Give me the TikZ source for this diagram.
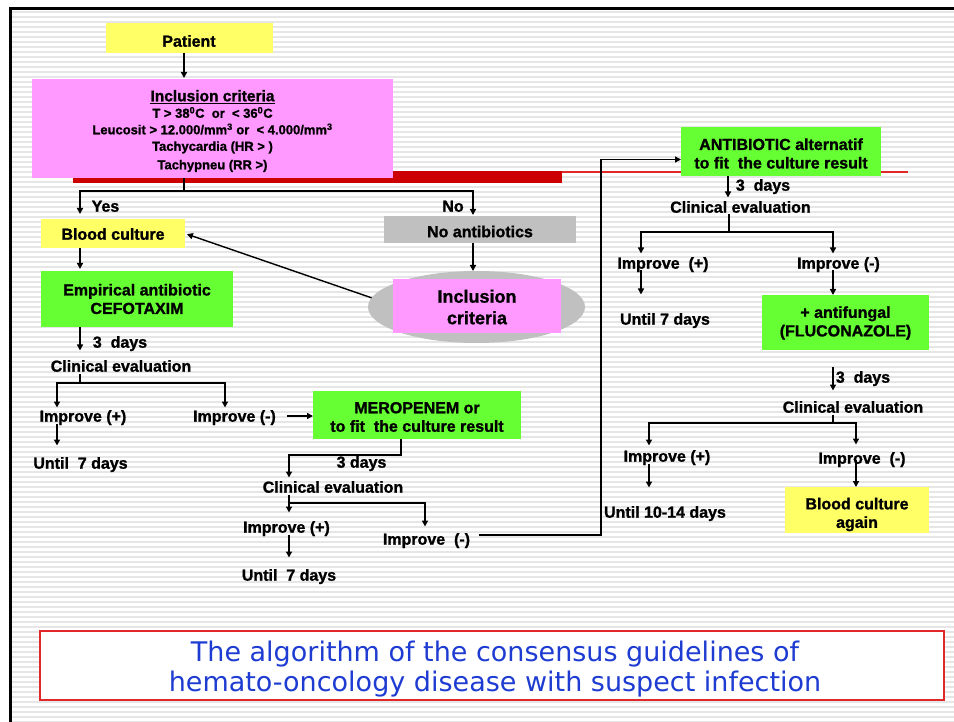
\documentclass[tikz,border=0pt]{standalone}
\usepackage{fontspec}
\setmainfont{Liberation Sans}[BoldFeatures={FakeBold=1.2}]
\newfontfamily\titlefont{DejaVu Sans}
\usetikzlibrary{arrows.meta,shapes.geometric,calc}
\definecolor{byellow}{HTML}{FFFF66}
\definecolor{bpink}{HTML}{FF99FF}
\definecolor{bgreen}{HTML}{66FF33}
\definecolor{bgray}{HTML}{C0C0C0}
\definecolor{bred}{HTML}{CC0000}
\definecolor{stripe}{HTML}{E6E6E6}
\definecolor{tblue}{HTML}{1E3CD2}
\definecolor{tred}{HTML}{E02828}
\newcommand\lowr[2][1.7pt]{\raisebox{-#1}{#2}}
\begin{document}
\begin{tikzpicture}[x=1pt,y=-1pt,
  every node/.style={inner sep=0pt, outer sep=0pt},
  bfill/.style={rectangle},
  btxt/.style={align=center, font=\bfseries\fontsize{16}{18.5}\selectfont},
  lbl/.style={font=\bfseries\fontsize{16}{18}\selectfont, text height=11.5pt, text depth=3.5pt},
  arr/.style={-{Triangle[length=6pt,width=6pt]}, line width=1.4pt},
  ln/.style={line width=1.4pt},
]
\useasboundingbox (0,0) rectangle (954,722);
\fill[white] (0,0) rectangle (954,722);
\foreach \yy in {11,16,...,721} \fill[stripe] (12,\yy) rectangle (954,\yy+2);
\draw[line width=3pt] (10.5,722) -- (10.5,8.5) -- (954,8.5);

% decoration bars
\fill[bred] (73,171) rectangle (562,183);
\draw[tred, line width=1.2pt] (562,172) -- (908,172);

% boxes (fill) and their texts
\node[bfill, fill=byellow, minimum width=167pt, minimum height=30pt] (pat) at (189,38) {};
\node[btxt] (patt) at ([yshift=-3pt]pat.center) {Patient};

\node[bfill, fill=bpink, minimum width=361pt, minimum height=99pt] (inc) at (212.5,128.5) {};
\node[btxt, font=\bfseries\fontsize{13}{16.5}\selectfont] (inct) at ([yshift=-2.5pt]inc.center)
  {{\fontsize{15.5}{17}\selectfont\underline{Inclusion criteria}}\\
   T > 38\textsuperscript{0}C\ \ or\ \ < 36\textsuperscript{0}C\\
   Leucosit > 12.000/mm\textsuperscript{3} or\ \ < 4.000/mm\textsuperscript{3}\\
   Tachycardia (HR > )\\[2pt]
   Tachypneu (RR >)};

\node[bfill, fill=byellow, minimum width=144pt, minimum height=29pt] (bc) at (113,233.5) {};
\node[btxt] (bct) at ([yshift=-0.5pt]bc.center) {Blood culture};

\node[bfill, fill=bgray, minimum width=192pt, minimum height=27pt] (noab) at (480,229.5) {};
\node[btxt] (noabt) at ([yshift=-2pt]noab.center) {No antibiotics};

\node[ellipse, fill=bgray, minimum width=217pt, minimum height=72pt] (ell) at (476.5,307) {};
\node[bfill, fill=bpink, minimum width=168pt, minimum height=54pt] (inc2) at (477,306) {};
\node[btxt, font=\bfseries\fontsize{18}{21.5}\selectfont] (inc2t) at ([yshift=-1pt]inc2.center) {Inclusion\\criteria};

\node[bfill, fill=bgreen, minimum width=192pt, minimum height=56pt] (emp) at (137,299) {};
\node[btxt] (empt) at (emp.center) {Empirical antibiotic\\CEFOTAXIM};

\node[bfill, fill=bgreen, minimum width=208pt, minimum height=48pt] (mero) at (417,415) {};
\node[btxt] (merot) at ([yshift=-2pt]mero.center) {MEROPENEM or\\to fit\ \ the culture result};

\node[bfill, fill=bgreen, minimum width=200pt, minimum height=49pt] (anti) at (781,151.5) {};
\node[btxt] (antit) at ([yshift=-2pt]anti.center) {ANTIBIOTIC alternatif\\to fit\ \ the culture result};

\node[bfill, fill=bgreen, minimum width=167pt, minimum height=55pt] (afg) at (845.5,322.5) {};
\node[btxt] (afgt) at ([yshift=-0.5pt]afg.center) {+ antifungal\\(FLUCONAZOLE)};

\node[bfill, fill=byellow, minimum width=144pt, minimum height=46pt] (bca) at (857,510) {};
\node[btxt] (bcat) at ([yshift=-4.5pt]bca.center) {Blood culture\\again};

% labels
\node[lbl] (yes) at (105.5,206) {\lowr{Yes}};
\node[lbl] (no) at (453,206) {\lowr{No}};
\node[lbl] (d1) at (120,342) {\lowr{3\ \ days}};
\node[lbl] (ce1) at (121,366) {\lowr{Clinical evaluation}};
\node[lbl] (ip1) at (83,416) {\lowr{Improve (+)}};
\node[lbl] (im1) at (234.5,416) {\lowr{Improve (-)}};
\node[lbl] (u1) at (80.5,463) {\lowr{Until\ \ 7 days}};
\node[lbl] (d2) at (361.5,462) {\lowr{3 days}};
\node[lbl] (ce2) at (333,487) {\lowr{Clinical evaluation}};
\node[lbl] (ip2) at (286.5,527) {\lowr{Improve (+)}};
\node[lbl] (u2) at (289,575) {\lowr{Until\ \ 7 days}};
\node[lbl] (im2) at (426.5,539) {\lowr{Improve\ \ (-)}};
\node[lbl] (d3) at (763,185) {\lowr{3\ \ days}};
\node[lbl] (ce3) at (740.5,207) {\lowr{Clinical evaluation}};
\node[lbl] (ip3) at (663,263) {\lowr{Improve\ \ (+)}};
\node[lbl] (im3) at (838.5,263) {\lowr{Improve (-)}};
\node[lbl] (u3) at (665,319) {\lowr{Until 7 days}};
\node[lbl] (d4) at (863,377) {\lowr{3\ \ days}};
\node[lbl] (ce4) at (853,407) {\lowr{Clinical evaluation}};
\node[lbl] (ip4) at (667,456) {\lowr{Improve (+)}};
\node[lbl] (im4) at (862,458) {\lowr{Improve\ \ (-)}};
\node[lbl] (u4) at (665,512) {\lowr{Until 10-14 days}};

% title
\node[draw=tred, line width=1.3pt, fill=white, minimum width=904pt, minimum height=69pt] (title) at (492,665.5) {};
\node[align=center, font=\titlefont\fontsize{27}{29.5}\selectfont, text=tblue] (titlet) at ([shift={(3pt,-3.5pt)}]title.center)
  {The algorithm of the consensus guidelines of\\hemato-oncology disease with suspect infection};

% column coordinates
\coordinate (xp) at (184,0);
\coordinate (xYes) at (80,0);
\coordinate (xNo) at (473,0);
\coordinate (x57) at (57,0);
\coordinate (x225) at (225,0);
\coordinate (x289) at (289,0);
\coordinate (x425) at (425,0);
\coordinate (x728) at (728,0);
\coordinate (x641) at (641,0);
\coordinate (x833) at (833,0);
\coordinate (x649) at (649,0);
\coordinate (x856) at (856,0);

% connectors
\draw[arr, shorten >=1pt] (pat.south -| xp) -- (inc.north -| xp);
\coordinate (cA) at (184,191);
\draw[ln] (inc.south -| cA) -- (cA);
\draw[arr, shorten >=5pt] (cA) -| (bc.north -| xYes);
\draw[arr, shorten >=1pt] (cA) -| (noab.north -| xNo);
\draw[arr, shorten >=2pt] (bc.south -| xYes) -- (emp.north -| xYes);
\draw[arr] (noab.south -| xNo) -- (ell.north -| xNo);
\draw[arr, shorten >=2pt] (ell.175) -- (bc.east);
\draw[arr, shorten >=8pt] (emp.south -| xYes) -- (ce1.north -| xYes);

\coordinate (cB) at (80,383);
\draw[ln] (ce1.south -| cB) -- (cB);
\draw[arr, shorten >=1pt] (cB) -| (ip1.north -| x57);
\draw[arr, shorten >=1pt] (cB) -| (im1.north -| x225);
\draw[arr, shorten >=10pt] (ip1.south -| x57) -- (u1.north -| x57);
\draw[arr, shorten <=11pt] (im1.east) -- (im1.east -| mero.west);

\coordinate (cC) at (401,455);
\draw[arr, shorten >=2pt] (mero.south -| cC) -- (cC) -| (ce2.north -| x289);
\coordinate (cD) at (289,503);
\draw[arr, shorten >=7pt] (ce2.south -| cD) -- (ip2.north -| cD);
\draw[arr, shorten >=5pt] (cD) -| (im2.north -| x425);
\draw[arr, shorten >=10pt] (ip2.south -| x289) -- (u2.north -| x289);

\coordinate (cE) at (601,535);
\draw[arr] ([shift={(9pt,4pt)}]im2.east) -- (cE) |- ([yshift=-8pt]anti.west);

\draw[arr, shorten >=2pt] (anti.south -| x728) -- (ce3.north -| x728);
\coordinate (cF) at (729,232);
\draw[ln] (ce3.south -| cF) -- (cF);
\draw[arr, shorten >=2pt] (cF) -| (ip3.north -| x641);
\draw[arr, shorten >=2pt] (cF) -| (im3.north -| x833);
\draw[arr, shorten >=17pt] (ip3.south -| x641) -- (u3.north -| x641);
\draw[arr] (im3.south -| x833) -- (afg.north -| x833);
\draw[arr, shorten <=17pt, shorten >=9pt] (afg.south -| x833) -- (ce4.north -| x833);

\coordinate (cG) at (833,423);
\draw[ln] (ce4.south -| cG) -- (cG);
\draw[arr, shorten >=3pt] (cG) -| (ip4.north -| x649);
\draw[arr, shorten >=6pt] (cG) -| (im4.north -| x856);
\draw[arr, shorten >=17pt] (ip4.south -| x649) -- (u4.north -| x649);
\draw[arr] ([yshift=6pt]im4.south -| x856) -- (bca.north -| x856);
\end{tikzpicture}
\end{document}
